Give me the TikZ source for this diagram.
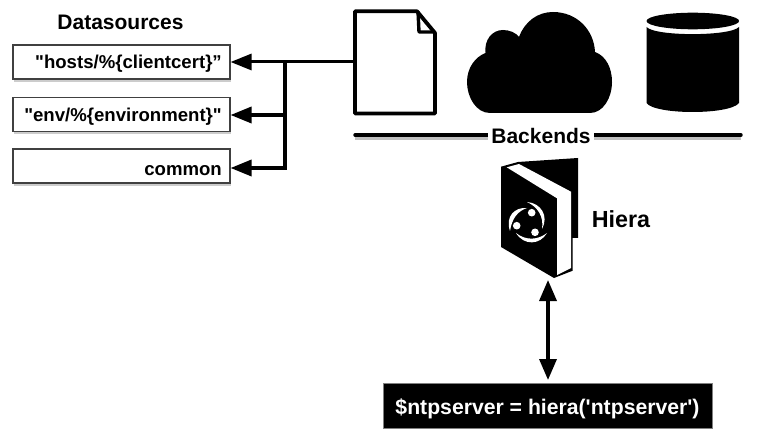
\documentclass[tikz,border=0pt]{standalone}
\usepackage{fontspec}
\setmainfont{Liberation Sans}[Ligatures=TeXOff]
\usetikzlibrary{arrows.meta}
\tikzset{
  px/.style={x=1pt,y=-1pt},
  dsbox/.style={draw=black!75,line width=1.1pt,fill=white,minimum width=217pt,minimum height=34pt,inner sep=0pt},
  dstext/.style={font=\bfseries\fontsize{18.6}{22}\selectfont,anchor=east,inner sep=0pt},
  conn/.style={line width=3.4pt,draw=black},
  arr/.style={conn,-{Triangle[length=21pt,width=16pt]}},
  dblarr/.style={conn,{Triangle[length=21pt,width=17pt]}-{Triangle[length=21pt,width=17pt]}},
  rulebar/.style={line width=3.4pt,line cap=round,draw=black},
  heading/.style={font=\bfseries\fontsize{21}{25}\selectfont,inner sep=0pt}
}
\begin{document}
\begin{tikzpicture}[px]
\useasboundingbox (0,0) rectangle (759,435);
\fill[white] (0,0) rectangle (759,435);
% shadows
\foreach \y in {79.5,132,183.5} \fill[black!20] (14,\y) rectangle (231,\y+2.5);
% datasource boxes
\node[dsbox] (b1) at (121.5,62) {};
\node[dsbox] (b2) at (121.5,114.5) {};
\node[dsbox] (b3) at (121.5,166) {};
\node[dstext] (t1) at (222,64) {"hosts/\%\{clientcert\}”};
\node[dstext] (t2) at (222,117) {"env/\%\{environment\}"};
\node[dstext] (t3) at (222,171) {common};
\node[heading] (ds) at (120.5,22.5) {Datasources};
% file icon
\coordinate (fileL) at (355,62);
\coordinate (j1) at (285,62);
\coordinate (j2) at (285,115);
\coordinate (j3) at (285,168);
\draw[line width=3.8pt,fill=white,line join=round] (355,11.3) -- (417,11.3) -- (435,33) -- (435,113.5) -- (355,113.5) -- cycle;
\draw[line width=3.4pt,line join=round] (418,11.3) -- (419,32) -- (435,32);
% cloud
\fill[black] (490,113) .. controls (476,113) and (467,97) .. (467,82)
  .. controls (467,68) and (475,57) .. (485.5,53)
  .. controls (484,40) and (492,30) .. (503,30)
  .. controls (510,30) and (516,33) .. (519,37)
  .. controls (525,21) and (538,12) .. (553,12)
  .. controls (577,12) and (594,30) .. (595,52)
  .. controls (606,56) and (612,68) .. (612,82)
  .. controls (612,98) and (603,113) .. (590,113) -- cycle;
% database
\fill[black] (646.5,27) -- (646.5,103) .. controls (655,115) and (730,115) .. (739,103) -- (739,27) .. controls (730,36.5) and (655,36.5) .. (646.5,27) -- cycle;
\fill[black] (692.8,21) ellipse [x radius=46.3, y radius=8.3];
% Backends rule
\fill[black!25] (355,137) rectangle (741,140);
\draw[rulebar] (355,135) -- (741,135);
\node[heading,fill=white,inner xsep=3.5pt,inner ysep=1pt] (be) at (541,136) {Backends};
% book
\fill[black] (501,166.7) -- (518,162) -- (578,158) -- (578,238) -- (572.7,238) -- (572.7,270.7) -- (554,278) -- (501,247) -- cycle;
\fill[white] (506.7,167.3) -- (519,164) -- (571,191.7) -- (571,268) -- (557,275) -- (557,198.3) -- cycle;
% emblem
\fill[white] (510,231) .. controls (505,216) and (515,207) .. (527,208) .. controls (518,211) and (512,218) .. (510,231) -- cycle;
\fill[white] (527,202) .. controls (541,203) and (549,216) .. (542,229) .. controls (544,217) and (538,207) .. (527,202) -- cycle;
\fill[white] (516,233) .. controls (524,246) and (540,245) .. (547,233) .. controls (538,240) and (526,241) .. (516,233) -- cycle;
\fill[white] (531.7,212.7) circle (3.8);
\fill[white] (516.7,225.7) circle (3.8);
\fill[white] (535,232.3) circle (3.8);
\node[heading,font=\bfseries\fontsize{23.3}{27}\selectfont] (hi) at (621,219.5) {Hiera};
% code box
\node[draw=black!50,line width=0.6pt,fill=black,text=white,font=\bfseries\fontsize{21.2}{25}\selectfont,minimum width=329pt,minimum height=45pt,inner sep=0pt,text depth=0pt] (code) at (547.5,405.5) {\raisebox{-1.5pt}{\$ntpserver = hiera('ntpserver')}};
\coordinate (bookB) at (548,280);
\coordinate (codeT) at (548,380);
% connectors
\draw[arr,line width=3pt] (fileL) -- (b1.east);
\draw[arr] (j2) -- (b2.east |- j2);
\draw[arr] (j1) -- (j3) -- (b3.east |- j3);
\draw[dblarr] (bookB) -- (codeT);
\end{tikzpicture}
\end{document}
